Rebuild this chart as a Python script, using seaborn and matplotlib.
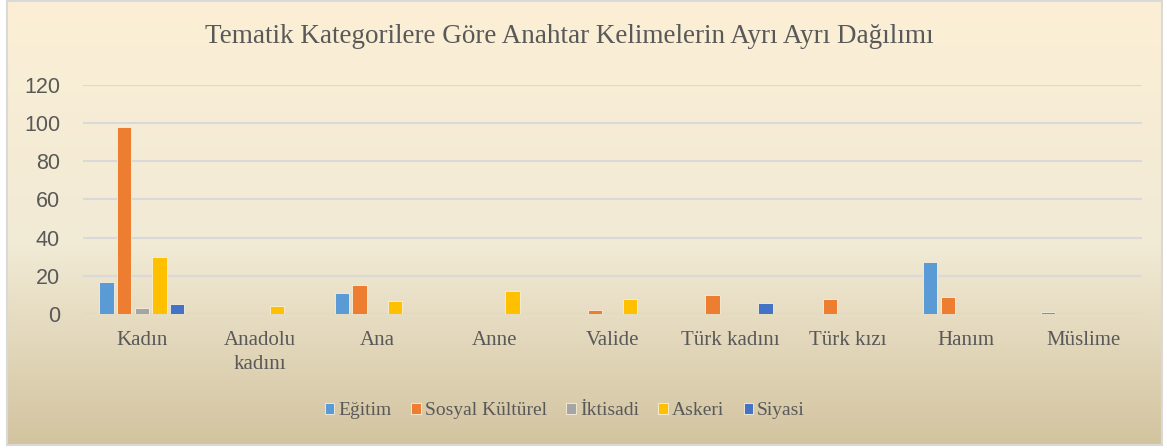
import numpy as np
import pandas as pd
import seaborn as sns
import matplotlib.pyplot as plt
from matplotlib.colors import LinearSegmentedColormap
from matplotlib.patches import Rectangle

categories = ['Kadın', 'Anadolu\nkadını', 'Ana', 'Anne', 'Valide',
              'Türk kadını', 'Türk kızı', 'Hanım', 'Müslime']
series = ['Eğitim', 'Sosyal Kültürel', 'İktisadi', 'Askeri', 'Siyasi']

egitim = [17, 0, 11, 0, 0, 0, 0, 27, 1]
sosyal_kulturel = [98, 0, 15, 0, 2, 10, 8, 9, 0]
iktisadi = [3, 0, 0, 0, 0, 0, 0, 0, 0]
askeri = [30, 4, 7, 12, 8, 0, 0, 0, 0]
siyasi = [5, 0, 0, 0, 0, 6, 0, 0, 0]

colors = ['#5B9BD5', '#ED7D31', '#A5A5A5', '#FFC000', '#4472C4']

values = [egitim, sosyal_kulturel, iktisadi, askeri, siyasi]
rows = []
for s, vals in zip(series, values):
    for c, v in zip(categories, vals):
        rows.append({'kategori': c, 'tema': s, 'deger': v})
df = pd.DataFrame(rows)

sns.set_theme(style='white')
plt.rcParams['font.family'] = ['Liberation Serif', 'DejaVu Serif']

fig = plt.figure(figsize=(11.67, 4.48), dpi=100)
fig.patch.set_facecolor('white')

# gradient background box
bg = fig.add_axes([0, 0, 1, 1], zorder=0)
bg.set_axis_off()
cmap = LinearSegmentedColormap.from_list(
    'parch', [(0, '#FCEFD6'), (0.55, '#F1EAD5'), (1, '#D3C4A0')])
grad = np.linspace(0, 1, 256).reshape(-1, 1)
bg.imshow(grad, aspect='auto', cmap=cmap,
          extent=[7 / 1167, 1162 / 1167, 3 / 448, 447 / 448],
          transform=bg.transAxes)
bg.set_xlim(0, 1)
bg.set_ylim(0, 1)
bg.add_patch(Rectangle((7 / 1167, 3 / 448), 1155 / 1167, 444 / 448,
                       fill=False, edgecolor='#D9D9D9', lw=1.5,
                       transform=bg.transAxes))

ax = fig.add_axes([0.0711, 0.2991, 0.9075, 0.5112], zorder=1)
ax.patch.set_alpha(0)

sns.barplot(data=df, x='kategori', y='deger', hue='tema', order=categories,
            hue_order=series, palette=colors, saturation=1, width=0.75,
            gap=0.2, edgecolor='#F8F0DC', linewidth=0.6, ax=ax)

ax.set_ylim(0, 120)
ax.set_yticks(range(0, 121, 20))
ax.yaxis.grid(True, color='#D9D9D9', lw=1.5)
ax.set_axisbelow(True)
for sp in ax.spines.values():
    sp.set_visible(False)
ax.set_xlabel('')
ax.set_ylabel('')
ax.tick_params(axis='both', length=0)
ax.tick_params(axis='x', pad=12, labelsize=15, colors='#595959')
for lab in ax.get_xticklabels():
    lab.set_linespacing(1.35)
for lab in ax.get_yticklabels():
    lab.set_fontfamily(['Liberation Sans', 'DejaVu Sans'])
ax.tick_params(axis='y', pad=16.5, labelsize=15.5, colors='#595959')

fig.text(0.4876, 0.918, 'Tematik Kategorilere Göre Anahtar Kelimelerin Ayrı Ayrı Dağılımı',
         ha='center', va='center', fontsize=19.5, color='#595959')

handles, labels = ax.get_legend_handles_labels()
ax.get_legend().remove()
fig.legend(handles, labels, loc='center', bbox_to_anchor=(0.4841, 0.083),
           ncol=5, frameon=False, fontsize=14, labelcolor='#595959',
           handlelength=0.48, handleheight=0.48, handletextpad=0.22,
           columnspacing=1.0)

fig.savefig('out.png', dpi=100, facecolor='white')
